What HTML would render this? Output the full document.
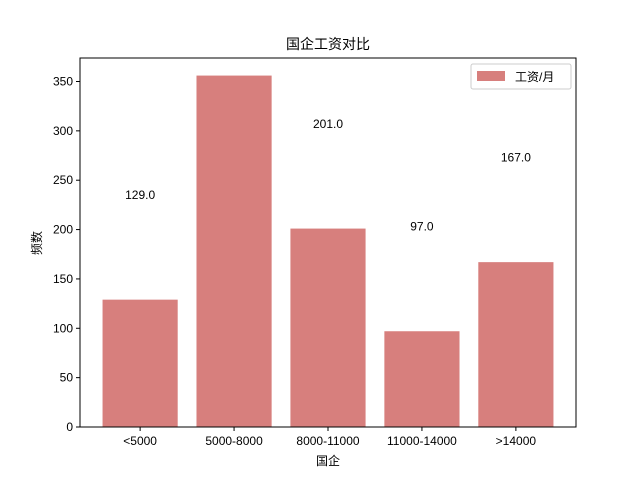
<!DOCTYPE html>
<html><head><meta charset="utf-8"><style>
body{margin:0;background:#fff;}
text{font-family:"Liberation Sans","Noto Sans CJK SC",sans-serif;font-size:12px;fill:#000;}
</style></head><body>
<svg id="chart" width="640" height="480" xmlns="http://www.w3.org/2000/svg">
<rect width="640" height="480" fill="#fff"/>
<text x="328" y="49" text-anchor="middle" style="font-size:14px">国企工资对比</text>
<g id="plot"></g>
<rect x="80" y="58" width="496" height="369" fill="none" stroke="#000" stroke-width="1"/>
<text x="328" y="465" text-anchor="middle">国企</text>
<text transform="translate(41,243) rotate(-90)" text-anchor="middle">频数</text>
<g>
<rect x="471" y="64" width="100" height="25" rx="2" fill="#fff" stroke="#ccc"/>
<rect x="477" y="71" width="28" height="10" fill="#d77f7d"/>
<text x="515" y="81">工资/月</text>
</g>
</svg>
<script>
const categories=["<5000","5000-8000","8000-11000","11000-14000",">14000"];
const values=[129,356,201,97,167];
const yTicks=[0,50,100,150,200,250,300,350];
const pLeft=80,pRight=576,pTop=58,pBottom=427;
const yMax=Math.max(...values)*1.05;
const yS=v=>pBottom-(v/yMax)*(pBottom-pTop);
const xmin=-0.64,xmax=categories.length-1+0.64;
const xS=i=>pLeft+(i-xmin)/(xmax-xmin)*(pRight-pLeft);
const unit=(pRight-pLeft)/(xmax-xmin);
const g=document.getElementById('plot');
const NS="http://www.w3.org/2000/svg";
function mk(t,a){const e=document.createElementNS(NS,t);for(const k in a)e.setAttribute(k,a[k]);g.appendChild(e);return e;}
values.forEach((v,i)=>{
 const r=mk('rect',{x:xS(i)-0.4*unit,y:yS(v),width:0.8*unit,height:pBottom-yS(v),fill:'#d77f7d'});
 
 
 const ly=yS(v+100);
 if(ly>pTop){
  const t=mk('text',{x:xS(i),y:ly-2,'text-anchor':'middle'});t.textContent=v.toFixed(1);
  
  
 }
 const tk=mk('line',{x1:xS(i),x2:xS(i),y1:pBottom,y2:pBottom+4,stroke:'#000'});
 
 
 const tl=mk('text',{x:xS(i),y:pBottom+18,'text-anchor':'middle'});tl.textContent=categories[i];
 
 
});
yTicks.forEach(v=>{
 const tk=mk('line',{x1:pLeft-4,x2:pLeft,y1:yS(v),y2:yS(v),stroke:'#000'});
 
 
 const tl=mk('text',{x:pLeft-7,y:yS(v)+4,'text-anchor':'end'});tl.textContent=v;
 
 
});
</script>
</body></html>
